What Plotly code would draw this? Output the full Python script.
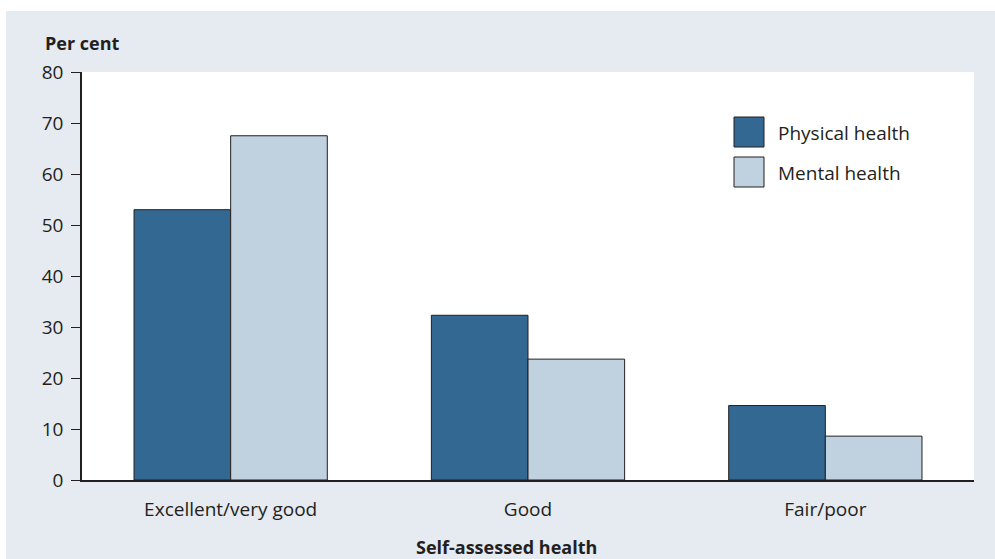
import plotly.graph_objects as go

# Self-assessed health by category, per cent
categories = ["Excellent/very good", "Good", "Fair/poor"]
series_names = ["Physical health", "Mental health"]
physical = [53.0, 32.3, 14.6]
mental = [67.5, 23.7, 8.6]
y_ticks = [0, 10, 20, 30, 40, 50, 60, 70, 80]

colors = ["#336893", "#C0D1DF"]
panel = "#E6EAF1"
ink = "#231F20"
font_family = "Open Sans, Noto Sans, sans-serif"
fs = 19        # regular text
fs_bold = 18   # axis titles

W, H = 995, 559
L, R, T, B = 82, 21, 72, 79
pw, ph = W - L - R, H - T - B


def px_x(x):
    return (x - L) / pw


def px_y(y):
    return (H - B - y) / ph


fig = go.Figure()
for name, vals, col in zip(series_names, [physical, mental], colors):
    fig.add_trace(go.Bar(
        x=categories, y=vals, name=name,
        marker=dict(color=col, line=dict(color=ink, width=1)),
        showlegend=False,
    ))

shapes = [
    # white strips outside the tinted panel
    dict(type="rect", xref="paper", yref="paper", layer="below",
         x0=px_x(0), x1=px_x(W), y0=px_y(11), y1=px_y(0),
         fillcolor="white", line=dict(width=0)),
    dict(type="rect", xref="paper", yref="paper", layer="below",
         x0=px_x(0), x1=px_x(6), y0=px_y(H), y1=px_y(0),
         fillcolor="white", line=dict(width=0)),
]
annotations = [
    dict(text="<b>Per cent</b>", xref="paper", yref="paper",
         x=px_x(43), y=px_y(43), xanchor="left", yanchor="middle",
         showarrow=False, font=dict(size=fs_bold, color=ink)),
    dict(text="<b>Self-assessed health</b>", xref="paper", yref="paper",
         x=px_x(506), y=px_y(547), xanchor="center", yanchor="middle",
         showarrow=False, font=dict(size=fs_bold, color=ink)),
]

# legend with large swatches
for i, (name, col) in enumerate(zip(series_names, colors)):
    top = 117 + i * 40
    shapes.append(dict(type="rect", xref="paper", yref="paper",
                       x0=px_x(734), x1=px_x(764), y0=px_y(top + 30), y1=px_y(top),
                       fillcolor=col, line=dict(color=ink, width=1)))
    annotations.append(dict(text=name, xref="paper", yref="paper",
                            x=px_x(776), y=px_y(top + 16), xanchor="left",
                            yanchor="middle", showarrow=False,
                            font=dict(size=fs, color=ink)))

fig.update_layout(
    width=W, height=H,
    margin=dict(l=L, r=R, t=T, b=B),
    paper_bgcolor=panel, plot_bgcolor="white",
    font=dict(family=font_family, size=fs, color=ink),
    barmode="group", bargap=0.35, bargroupgap=0,
    shapes=shapes, annotations=annotations,
    xaxis=dict(showline=True, linecolor=ink, linewidth=1.5, ticks="",
               ticklabelstandoff=11, showgrid=False, zeroline=False,
               tickfont=dict(size=fs, color=ink)),
    yaxis=dict(range=[0, 80], tickvals=y_ticks, ticks="outside", ticklen=9,
               tickcolor=ink, tickwidth=1.2, showline=True, linecolor=ink,
               linewidth=1.5, showgrid=False, zeroline=False,
               ticklabelstandoff=4, tickfont=dict(size=fs, color=ink)),
)

fig.write_html("out.html")
